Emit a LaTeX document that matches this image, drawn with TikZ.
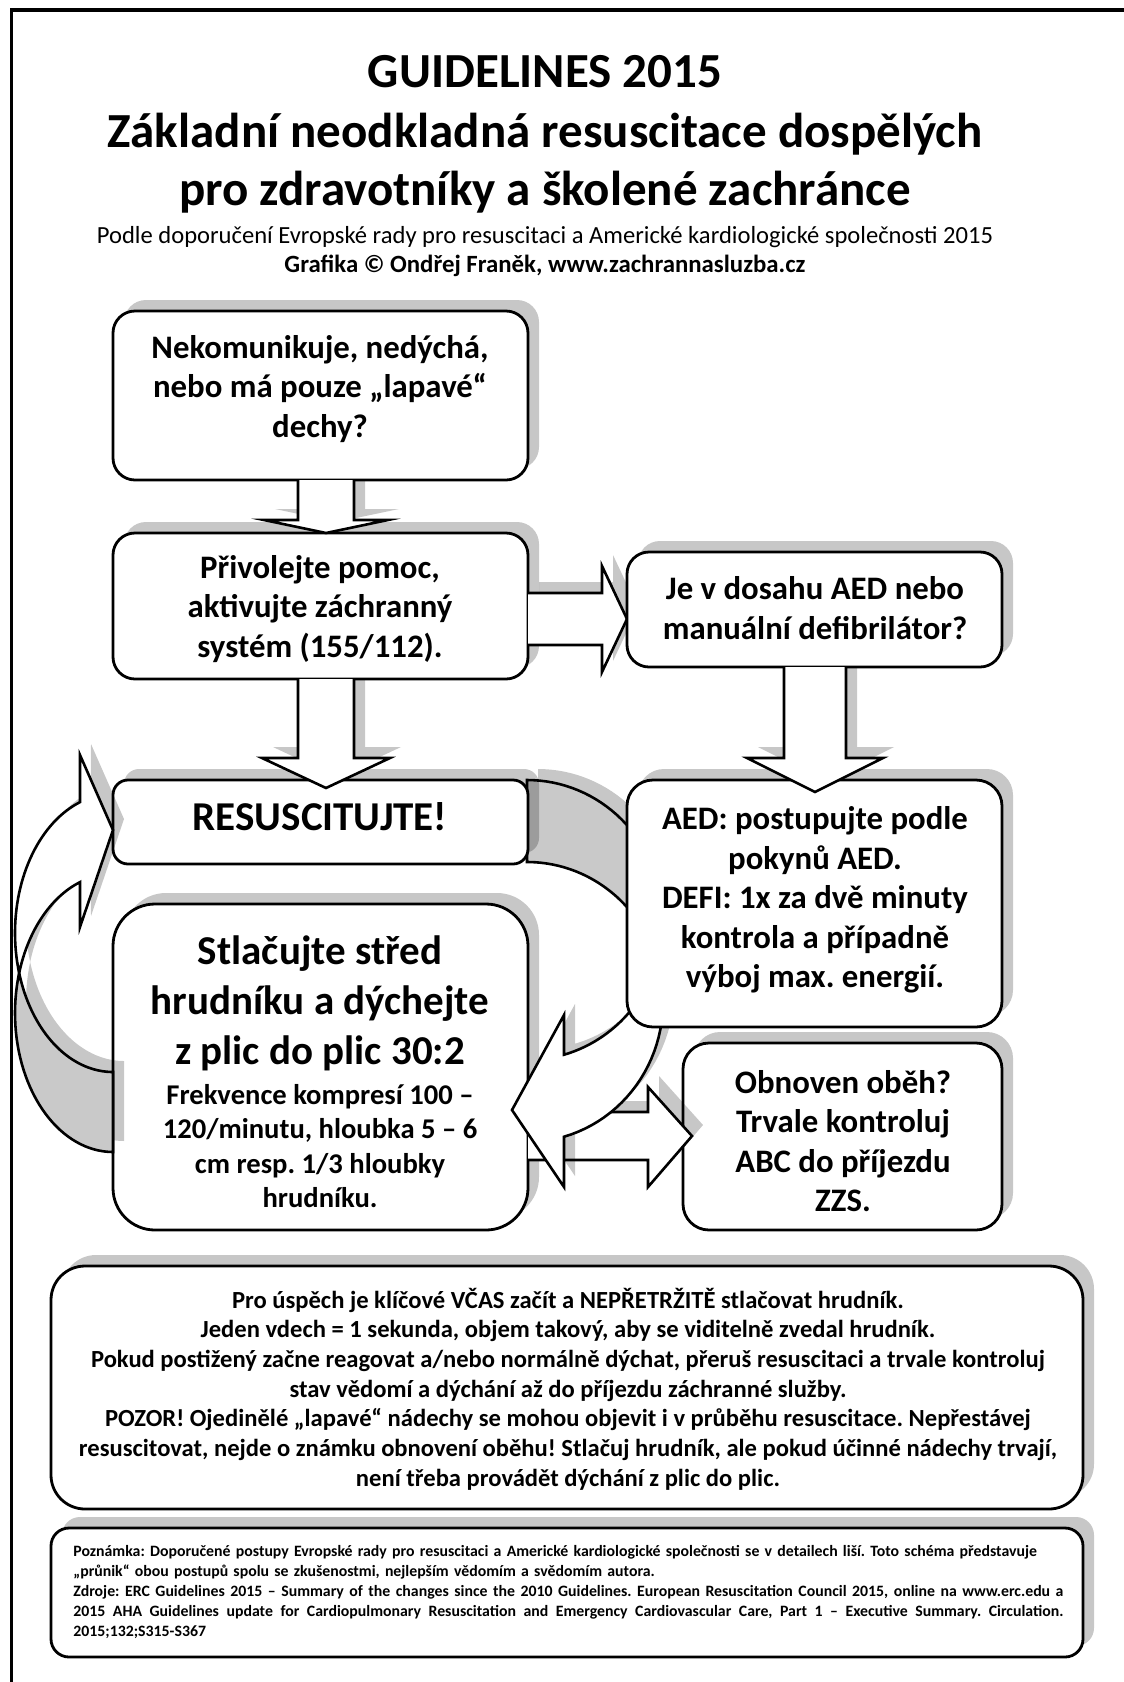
\documentclass[tikz,border=0pt]{standalone}
\usepackage{fontspec}
\setmainfont{Carlito}
\usetikzlibrary{fit,shadows}
\frenchspacing
% a line of the note set to the full width, with stretchable word spaces
\newcommand\fullline[1]{\makebox[495pt][s]{\spaceskip=0pt\xspaceskip=0pt #1}}
\begin{document}
\begin{tikzpicture}[x=0.5pt,y=-0.5pt,
  boxstyle/.style={draw=black, line width=1.4pt, fill=white, inner sep=0pt,
    drop shadow={shadow xshift=5.5pt,shadow yshift=5.5pt,opacity=.22,fill=black}},
  shadowfill/.style={fill=black, fill opacity=.22, draw=none},
  arrowbody/.style={fill=white, draw=black, line width=1.3pt, line join=miter},
  backface/.style={fill=black!21, draw=black, line width=1.3pt},
  boxtext/.style={font=\bfseries\fontsize{16.4}{19.8}\selectfont, align=center, inner sep=0pt},
  titletext/.style={font=\bfseries\fontsize{24.5}{29}\selectfont, anchor=base, inner sep=0pt},
]
\useasboundingbox (0,0) rectangle (1124,1682);
% page frame
\draw[line width=1.75pt] (11.5,1682) -- (11.5,10) -- (1124,10);

% heading
\node[titletext] (t1) at (545,87) {GUIDELINES 2015};
\node[titletext] (t2) at (545,147) {Základní neodkladná resuscitace dospělých};
\node[titletext] (t3) at (545,205) {pro zdravotníky a školené zachránce};
\node[font=\fontsize{12.3}{14}\selectfont, anchor=base, inner sep=0pt] (t4) at (545,243)
  {Podle doporučení Evropské rady pro resuscitaci a Americké kardiologické společnosti 2015};
\node[font=\bfseries\fontsize{12.4}{14}\selectfont, anchor=base, inner sep=0pt] (t5) at (545,272)
  {Grafika © Ondřej Franěk, www.zachrannasluzba.cz};

% first steps
\node[boxstyle, rounded corners=11pt, fit={(113,311) (528,480)}] (A) {};
\node[boxstyle, rounded corners=11pt, fit={(113,533) (528,679)}] (B) {};

% A -> B
\fill[shadowfill] (309,480) -- (309,509) -- (275,509) -- (337,522) -- (399,509) -- (365,509) -- (365,480) -- cycle;
\filldraw[arrowbody] (298,480) -- (298,520) -- (264,520) -- (326,533) -- (388,520) -- (354,520) -- (354,480);

% B -> C
\fill[shadowfill] (539,582) -- (613,582) -- (613,555) -- (638,608) -- (613,661) -- (613,634) -- (539,634) -- cycle;
\filldraw[arrowbody] (528,593) -- (602,593) -- (602,566) -- (627,619) -- (602,672) -- (602,645) -- (528,645);

\node[boxstyle, rounded corners=11pt, fit={(627,552) (1002,667)}] (C) {};

% compressions and recovery
\node[boxstyle, rounded corners=21pt, fit={(113,904) (528,1230)}] (F) {};
\node[boxstyle, rounded corners=13pt, fit={(683,1043) (1002,1230)}] (G) {};

% F -> G
\fill[shadowfill] (539,1101) -- (659,1101) -- (659,1076) -- (703,1125) -- (659,1176) -- (659,1149) -- (539,1149) -- cycle;
\filldraw[arrowbody] (528,1112) -- (648,1112) -- (648,1087) -- (692,1136) -- (648,1187) -- (648,1160) -- (528,1160);

% curved arrow from RESUSCITUJTE! round the defibrillation box back to compressions
\begin{scope}[shift={(11,-11)}]
\fill[shadowfill] plot[domain=-90:17, samples=40, variable=\t] ({527+136*cos(\t)},{920+140*sin(\t)})
  -- plot[domain=-17:-90, samples=40, variable=\t] ({527+136*cos(\t)},{1002+140*sin(\t)}) -- cycle;
\fill[shadowfill] plot[domain=17:74.2, samples=30, variable=\t] ({527+136*cos(\t)},{920+140*sin(\t)})
  -- (564,1015) -- (512,1110) -- (564,1187)
  -- plot[domain=74.2:-17, samples=30, variable=\t] ({527+136*cos(\t)},{1002+140*sin(\t)}) -- cycle;
\end{scope}
\filldraw[backface] plot[domain=-90:17, samples=40, variable=\t] ({527+136*cos(\t)},{920+140*sin(\t)})
  -- plot[domain=-17:-90, samples=40, variable=\t] ({527+136*cos(\t)},{1002+140*sin(\t)}) -- cycle;
\filldraw[arrowbody] plot[domain=17:74.2, samples=30, variable=\t] ({527+136*cos(\t)},{920+140*sin(\t)})
  -- (564,1015) -- (512,1110) -- (564,1187)
  -- plot[domain=74.2:-17, samples=30, variable=\t] ({527+136*cos(\t)},{1002+140*sin(\t)}) -- cycle;

\node[boxstyle, rounded corners=7.5pt, fit={(113,780) (528,864)}] (D) {};
\node[boxstyle, rounded corners=13pt, fit={(627,780) (1002,1027)}] (E) {};

% B -> D
\fill[shadowfill] (309,679) -- (309,747) -- (273,747) -- (337,777) -- (401,747) -- (365,747) -- (365,679) -- cycle;
\filldraw[arrowbody] (298,679) -- (298,758) -- (262,758) -- (326,788) -- (390,758) -- (354,758) -- (354,679);

% C -> E
\fill[shadowfill] (795,667) -- (795,747) -- (758,747) -- (826,781) -- (894,747) -- (857,747) -- (857,667) -- cycle;
\filldraw[arrowbody] (784,667) -- (784,758) -- (747,758) -- (815,792) -- (883,758) -- (846,758) -- (846,667);

% loop on the left: compressions back to RESUSCITUJTE!
\begin{scope}[shift={(11,-11)}]
\fill[shadowfill] plot[domain=163.3:250.3, samples=40, variable=\t] ({113+98*cos(\t)},{933+139*sin(\t)})
  -- (80,755) -- (113,830) -- (80,927)
  -- plot[domain=250.3:196.7, samples=30, variable=\t] ({113+98*cos(\t)},{1013+139*sin(\t)}) -- cycle;
\fill[shadowfill] plot[domain=163.3:90, samples=40, variable=\t] ({113+98*cos(\t)},{933+139*sin(\t)})
  -- plot[domain=90:196.7, samples=40, variable=\t] ({113+98*cos(\t)},{1013+139*sin(\t)}) -- cycle;
\end{scope}
\filldraw[arrowbody] plot[domain=163.3:250.3, samples=40, variable=\t] ({113+98*cos(\t)},{933+139*sin(\t)})
  -- (80,755) -- (113,830) -- (80,927)
  -- plot[domain=250.3:196.7, samples=30, variable=\t] ({113+98*cos(\t)},{1013+139*sin(\t)}) -- cycle;
\filldraw[backface] plot[domain=163.3:90, samples=40, variable=\t] ({113+98*cos(\t)},{933+139*sin(\t)})
  -- plot[domain=90:196.7, samples=40, variable=\t] ({113+98*cos(\t)},{1013+139*sin(\t)}) -- cycle;

% notes
\node[boxstyle, rounded corners=17pt, fit={(51,1266) (1083,1509)}] (H) {};
\node[boxstyle, rounded corners=9pt, fit={(51,1528) (1083,1657)}] (I) {};

% box texts
\node[boxtext] (At) at (320,389) {Nekomunikuje, nedýchá,\\nebo má pouze „lapavé“\\dechy?};
\node[boxtext] (Bt) at (320,609) {Přivolejte pomoc,\\aktivujte záchranný\\systém (155/112).};
\node[boxtext] (Ct) at (815,608) {Je v dosahu AED nebo\\manuální defibrilátor?};
\node[boxtext, font=\bfseries\fontsize{20.5}{24}\selectfont] (Dt) at (320,817) {RESUSCITUJTE!};
\node[boxtext] (Et) at (815,900) {AED: postupujte podle\\pokynů AED.\\DEFI: 1x za dvě minuty\\kontrola a případně\\výboj max. energií.};
\node[boxtext, font=\bfseries\fontsize{20.5}{25}\selectfont] (Ft1) at (320,1003) {Stlačujte střed\\hrudníku a dýchejte\\z plic do plic 30:2};
\node[boxtext, font=\bfseries\fontsize{14.3}{17.2}\selectfont] (Ft2) at (320,1146) {Frekvence kompresí 100 –\\120/minutu, hloubka 5 – 6\\cm resp. 1/3 hloubky\\hrudníku.};
\node[boxtext] (Gt) at (843,1141) {Obnoven oběh?\\Trvale kontroluj\\ABC do příjezdu\\ZZS.};
\node[boxtext, font=\bfseries\fontsize{12.3}{14.85}\selectfont] (Ht) at (568,1389)
  {Pro úspěch je klíčové VČAS začít a NEPŘETRŽITĚ stlačovat hrudník.\\
   Jeden vdech = 1 sekunda, objem takový, aby se viditelně zvedal hrudník.\\
   Pokud postižený začne reagovat a/nebo normálně dýchat, přeruš resuscitaci a trvale kontroluj\\
   stav vědomí a dýchání až do příjezdu záchranné služby.\\
   POZOR! Ojedinělé „lapavé“ nádechy se mohou objevit i v průběhu resuscitace. Nepřestávej\\
   resuscitovat, nejde o známku obnovení oběhu! Stlačuj hrudník, ale pokud účinné nádechy trvají,\\
   není třeba provádět dýchání z plic do plic.};
\node[font=\bfseries\fontsize{7.9}{10}\selectfont, anchor=west, inner sep=0pt, text width=495pt, align=left] (It) at (73,1592)
  {Poznámka: Doporučené postupy Evropské rady pro resuscitaci a Americké kardiologické společnosti se v detailech liší. Toto schéma představuje\\
   „průnik“ obou postupů spolu se zkušenostmi, nejlepším vědomím a svědomím autora.\\
   \fullline{Zdroje: ERC Guidelines 2015 – Summary of the changes since the 2010 Guidelines. European Resuscitation Council 2015, online na www.erc.edu a}\\
   \fullline{2015 AHA Guidelines update for Cardiopulmonary Resuscitation and Emergency Cardiovascular Care, Part 1 – Executive Summary. Circulation.}\\
   2015;132;S315-S367};
\end{tikzpicture}
\end{document}
